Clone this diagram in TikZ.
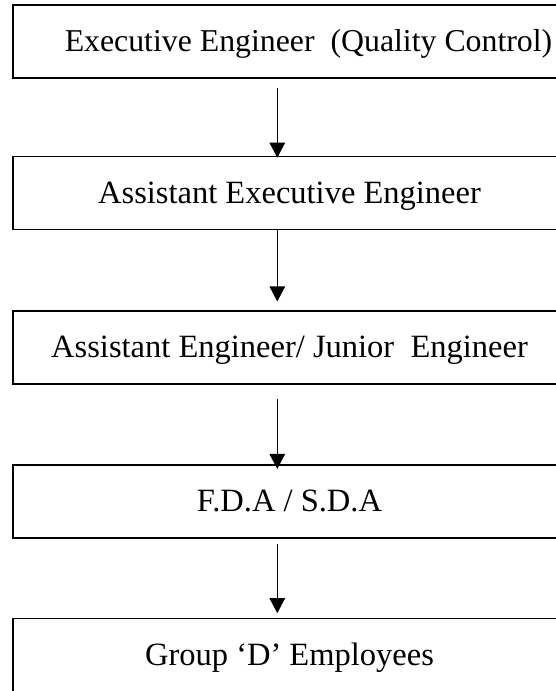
\documentclass[tikz,border=0pt]{standalone}
\usepackage{fontspec}
\setmainfont{Liberation Serif}
\usetikzlibrary{arrows.meta}
\tikzset{
  box/.style={draw, line width=1.7pt, rectangle, inner sep=0pt,
    minimum width=553.6pt, minimum height=73pt,
    text height=21.4pt, text depth=0pt,
    font=\fontsize{32.5pt}{37pt}\selectfont},
  arr/.style={line width=1.4pt, -{Triangle[width=15.5pt,length=15pt]}}
}
\begin{document}
\begin{tikzpicture}[x=1pt,y=1pt]
\useasboundingbox (0,0) rectangle (556,-691);
\clip (0,0) rectangle (556,-691);
\coordinate (ax) at (277.3,0);
\node[box, font=\fontsize{31.8pt}{36pt}\selectfont, text height=21pt] (b1) at (289.5,-41.25) {\hspace*{38pt}Executive Engineer\ \ (Quality Control)};
\node[box] (b2) at (289.5,-193) {Assistant Executive Engineer};
\node[box] (b3) at (289.5,-347.25) {Assistant Engineer/ Junior\ \ Engineer};
\node[box] (b4) at (289.5,-501.25) {F.D.A / S.D.A};
\node[box, minimum height=80pt, text depth=7pt] (b5) at (289.5,-658.5) {Group ‘D’ Employees};
\draw[arr, shorten <=9.2pt, shorten >=-2pt] (b1.south -| ax) -- (b2.north -| ax);
\draw[arr, shorten <=0pt, shorten >=8.5pt] (b2.south -| ax) -- (b3.north -| ax);
\draw[arr, shorten <=14pt, shorten >=-5pt] (b3.south -| ax) -- (b4.north -| ax);
\draw[arr, shorten <=5.2pt, shorten >=4.5pt] (b4.south -| ax) -- (b5.north -| ax);
\end{tikzpicture}
\end{document}
